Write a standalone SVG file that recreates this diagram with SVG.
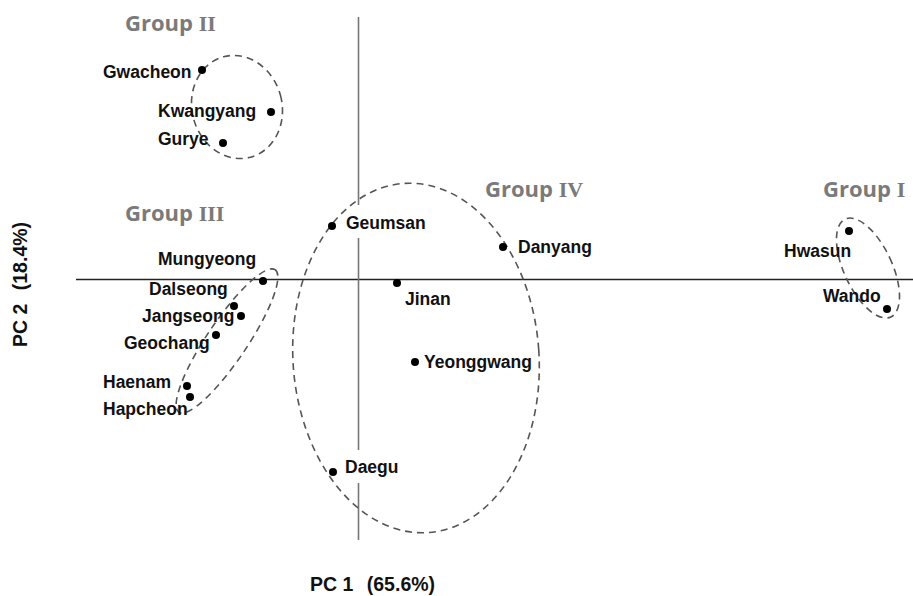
<svg xmlns="http://www.w3.org/2000/svg" width="913" height="596" viewBox="0 0 913 596">
<style>
.lbl{font-family:"Liberation Sans",Arial,sans-serif;font-weight:700;font-size:17.5px;fill:#111}
.grp{font-family:"Open Sans","Liberation Sans",sans-serif;font-weight:700;font-size:22px;fill:#7a7a7a}
.num{font-family:"Liberation Serif",serif;font-weight:700}
.ax{font-family:"Liberation Sans",Arial,sans-serif;font-weight:700;font-size:19.5px;fill:#111}
.dot{fill:#000}
.clu{fill:none;stroke:#555;stroke-width:1.6;stroke-dasharray:7 5}
</style>
<rect width="913" height="596" fill="#fff"/>
<g id="connectors">
<line x1="76" y1="279.5" x2="913" y2="279.5" stroke="#222" stroke-width="1.3"/>
<line x1="358.5" y1="17" x2="358.5" y2="540" stroke="#777" stroke-width="1.6"/>
<rect x="342" y="205" width="86" height="33" fill="#fff"/>
<rect x="341" y="450" width="60" height="33" fill="#fff"/>
</g>
<g id="clusters">
<ellipse id="cluster-II" class="clu" cx="237" cy="107" rx="45" ry="52" transform="rotate(-15 237 107)"/>
<ellipse id="cluster-III" class="clu" cx="227" cy="341" rx="86" ry="20" transform="rotate(-56 227 341)"/>
<ellipse id="cluster-I" class="clu" cx="868" cy="268" rx="24" ry="54" transform="rotate(-25 868 268)"/>
<ellipse id="cluster-IV" class="clu" cx="416" cy="358" rx="123" ry="175" transform="rotate(-4 416 358)"/>
</g>
<g id="group-labels">
<text class="grp" x="125" y="31">Group <tspan class="num">II</tspan></text>
<text class="grp" x="125" y="221">Group <tspan class="num">III</tspan></text>
<text class="grp" x="485" y="197">Group <tspan class="num">IV</tspan></text>
<text class="grp" x="823" y="197">Group <tspan class="num">I</tspan></text>
</g>
<g id="n-gwacheon"><circle class="dot" cx="202" cy="70" r="4"/><text class="lbl" x="103" y="78">Gwacheon</text></g>
<g id="n-kwangyang"><circle class="dot" cx="271" cy="112" r="4"/><text class="lbl" x="158" y="117">Kwangyang</text></g>
<g id="n-gurye"><circle class="dot" cx="223" cy="143" r="4"/><text class="lbl" x="158" y="145">Gurye</text></g>
<g id="n-mungyeong"><circle class="dot" cx="263" cy="281" r="4"/><text class="lbl" x="158" y="265">Mungyeong</text></g>
<g id="n-dalseong"><circle class="dot" cx="234" cy="306" r="4"/><text class="lbl" x="149" y="295">Dalseong</text></g>
<g id="n-jangseong"><circle class="dot" cx="241" cy="316" r="4"/><text class="lbl" x="142" y="322">Jangseong</text></g>
<g id="n-geochang"><circle class="dot" cx="216" cy="335" r="4"/><text class="lbl" x="124" y="349">Geochang</text></g>
<g id="n-haenam"><circle class="dot" cx="187" cy="386" r="4"/><text class="lbl" x="103" y="388">Haenam</text></g>
<g id="n-hapcheon"><circle class="dot" cx="190" cy="397" r="4"/><text class="lbl" x="103" y="415">Hapcheon</text></g>
<g id="n-hwasun"><circle class="dot" cx="849" cy="231" r="4"/><text class="lbl" x="784" y="257">Hwasun</text></g>
<g id="n-wando"><circle class="dot" cx="887" cy="309" r="4"/><text class="lbl" x="823" y="302">Wando</text></g>
<g id="n-danyang"><circle class="dot" cx="503" cy="247" r="4"/><text class="lbl" x="518" y="253">Danyang</text></g>
<g id="n-geumsan"><circle class="dot" cx="332" cy="226" r="4"/><text class="lbl" x="346" y="229">Geumsan</text></g>
<g id="n-jinan"><circle class="dot" cx="397" cy="283" r="4"/><text class="lbl" x="405" y="305">Jinan</text></g>
<g id="n-yeonggwang"><circle class="dot" cx="415" cy="362" r="4"/><text class="lbl" x="424" y="368">Yeonggwang</text></g>
<g id="n-daegu"><circle class="dot" cx="333" cy="472" r="4"/><text class="lbl" x="345" y="473">Daegu</text></g>
<g id="axis-titles">
<text class="ax" x="310" y="591">PC 1 <tspan dx="8">(65.6%)</tspan></text>
<text class="ax" transform="translate(27 347) rotate(-90)" x="0" y="0">PC 2 <tspan dx="8">(18.4%)</tspan></text>
</g>
</svg>
